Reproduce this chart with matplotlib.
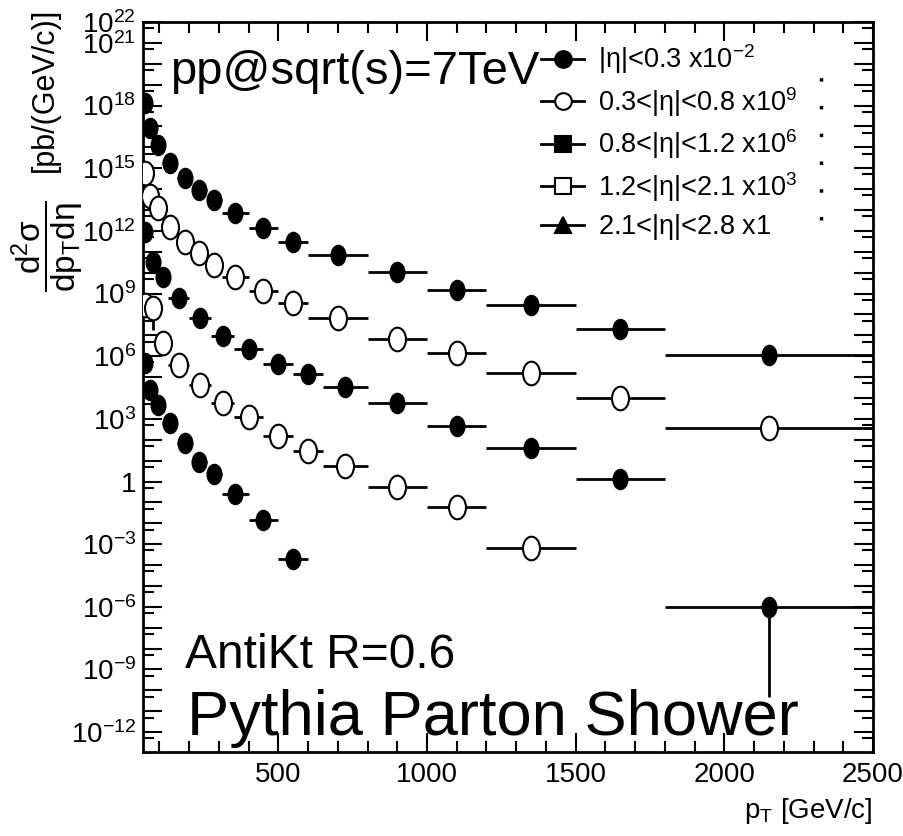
import numpy as np
import matplotlib
matplotlib.use('Agg')
import matplotlib.pyplot as plt
from matplotlib import font_manager
from matplotlib.path import Path
from matplotlib.transforms import Affine2D
from matplotlib.lines import Line2D

# fonts: ROOT style Helvetica, narrow tick labels if there is one
names = {f.name for f in font_manager.fontManager.ttflist}
narrow = 'Liberation Sans Narrow' if 'Liberation Sans Narrow' in names else 'Liberation Sans'
plt.rcParams['font.family'] = ['Liberation Sans', 'DejaVu Sans']
plt.rcParams['mathtext.fontset'] = 'custom'
plt.rcParams['mathtext.rm'] = narrow
plt.rcParams['mathtext.it'] = narrow + ':italic'
plt.rcParams['mathtext.default'] = 'regular'

# pT bin edges
edges_a = [45, 60, 80, 110, 160, 210, 260, 310, 400, 500, 600, 800, 1000, 1200, 1500, 1800, 2500]
edges_b = [40, 65, 95, 130, 200, 275, 350, 450, 550, 650, 800, 1000, 1200, 1500, 1800, 2500]

# cross sections (already scaled)
eta1 = [1.3e18, 8.3e16, 1.3e16, 1.8e15, 3.4e14, 8.9e13, 3.0e13, 7.1e12, 1.3e12, 2.9e11,
        6.9e10, 1.1e10, 1.4e9, 2.8e8, 2.0e7, 1.1e6]
eta2 = [5.9e14, 4.7e13, 1.2e13, 1.5e12, 2.9e11, 8.7e10, 2.3e10, 6.2e9, 1.3e9, 3.5e8,
        6.6e7, 6.6e6, 1.4e6, 1.5e5, 9.8e3, 3.6e2]
eta3 = [8.7e11, 3.2e10, 6.2e9, 6.0e8, 6.6e7, 9.1e6, 2.2e6, 4.2e5, 1.4e5, 3.3e4,
        5.6e3, 4.5e2, 40, 1.3, 9.5e-7]
eta4 = [2.8e8, 2.0e8, 4.3e6, 3.7e5, 4.1e4, 5.6e3, 1.2e3, 1.5e2, 28, 5.5,
        0.54, 5.9e-2, 6.5e-4]
eta5 = [4.7e5, 2.4e4, 4.6e3, 6.2e2, 69, 8.5, 2.2, 0.25, 1.4e-2, 1.9e-4]
# lower error bars (only the visible ones)
eta3_lo = [0] * 14 + [9.5e-7 - 4.7e-11]
eta4_lo = [0, 2.0e8 - 1.8e7] + [0] * 11

labels = [r'$|\eta|$<0.3 x10$^{-2}$', r'0.3<$|\eta|$<0.8 x10$^{9}$',
          r'0.8<$|\eta|$<1.2 x10$^{6}$', r'1.2<$|\eta|$<2.1 x10$^{3}$',
          r'2.1<$|\eta|$<2.8 x1']
ytick_exp = [22, 21, 18, 15, 12, 9, 6, 3, 0, -3, -6, -9, -12]

# slightly tall ellipse marker like the original picture
ell = Path.unit_circle().transformed(Affine2D().scale(0.72, 1.0))

fig = plt.figure(figsize=(9.04, 8.36), dpi=100)
ax = fig.add_axes([143 / 904, 84 / 836, 730 / 904, 730 / 836])


def draw(edges, vals, filled, lo=None):
    e = np.array(edges[:len(vals) + 1], dtype=float)
    xc = 0.5 * (e[:-1] + e[1:])
    xerr = [xc - e[:-1], e[1:] - xc]
    yerr = None if lo is None else [lo, np.zeros(len(vals))]
    ax.errorbar(xc, vals, xerr=xerr, yerr=yerr, fmt='none', ecolor='k',
                elinewidth=2, capsize=0, zorder=2)
    ax.plot(xc, vals, ls='none', marker=ell, ms=14 if filled else 17,
            mfc='k' if filled else 'white', mec='k', mew=1.5, zorder=3)


draw(edges_a, eta1, True)
draw(edges_a, eta2, False)
draw(edges_b, eta3, True, eta3_lo)
draw(edges_b, eta4, False, eta4_lo)
draw(edges_a, eta5, True)

ax.set_yscale('log')
ax.set_xlim(45, 2500)
ax.set_ylim(10 ** -12.95, 1e22)

ax.set_xticks([500, 1000, 1500, 2000, 2500])
ax.set_xticks(np.arange(100, 2500, 100), minor=True)
ax.set_yticks([10.0 ** k for k in range(-12, 23)])
ax.set_yticks([5 * 10.0 ** k for k in range(-13, 22)], minor=True)
ax.set_yticklabels(['' if k not in ytick_exp else ('1' if k == 0 else r'$10^{%d}$' % k)
                    for k in range(-12, 23)])
ax.tick_params(which='both', direction='in', top=True, right=True, width=1.5,
               labelsize=20, colors='k')
ax.tick_params(which='major', length=14)
ax.tick_params(which='minor', length=8)
ax.tick_params(axis='y', pad=5)
ax.tick_params(axis='x', pad=7)
for lab in ax.get_xticklabels():
    lab.set_fontfamily(narrow)
for s in ax.spines.values():
    s.set_linewidth(2)

# axis titles (ROOT puts them at the axis end)
fig.text(45 / 904, 1 - 8 / 836, '[pb/(GeV/c)]',
         rotation=90, ha='center', va='top', fontsize=22)
fig.text(47 / 904, 1 - 200 / 836, r'$\dfrac{d^{2}\sigma}{dp_{T}d\eta}$',
         rotation=90, ha='center', va='top', fontsize=24)
ax.text(1.0, -0.06, r'p$_{T}$ [GeV/c]', transform=ax.transAxes,
        ha='right', va='top', fontsize=20, fontfamily=narrow)

# labels on the plot
ax.text(0.037, 0.915, 'pp@sqrt(s)=7TeV', transform=ax.transAxes,
        fontsize=34, va='baseline', ha='left')
ax.text(0.058, 0.115, 'AntiKt R=0.6', transform=ax.transAxes,
        fontsize=34.5, va='baseline', ha='left')
ax.text(0.060, 0.023, 'Pythia Parton Shower', transform=ax.transAxes,
        fontsize=45.5, va='baseline', ha='left')

# legend
markers = [('o', 'k'), ('o', 'white'), ('s', 'k'), ('s', 'white'), ('^', 'k')]
handles = [Line2D([], [], color='k', lw=2, marker=m, ms=12, mfc=fc, mec='k', mew=1.5)
           for m, fc in markers]
ax.legend(handles, labels, loc='upper left', bbox_to_anchor=(0.545, 0.972),
          frameon=False, fontsize=19.5, handlelength=1.6, handletextpad=0.5,
          labelspacing=0.32, borderpad=0, borderaxespad=0)
ax.plot([0.929, 0.929], [0.729, 0.955], transform=ax.transAxes, color='k',
        lw=2.5, ls=(0, (1, 7)), clip_on=False)

fig.savefig('out.png', dpi=100)
